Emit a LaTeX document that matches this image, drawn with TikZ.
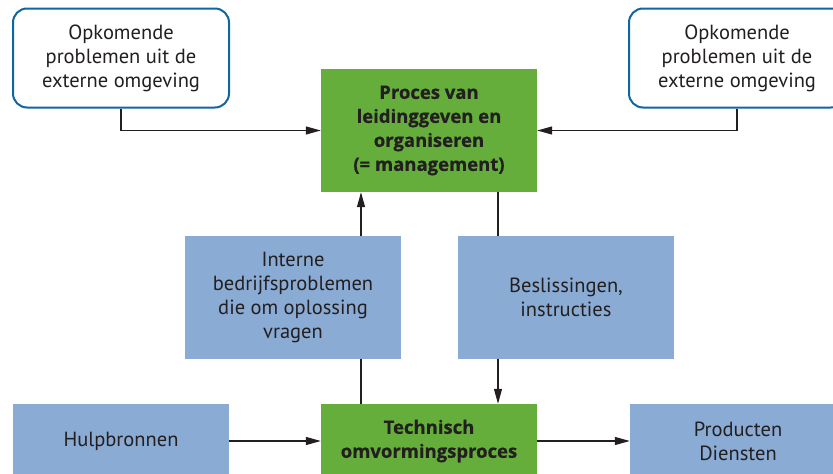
\documentclass[tikz,border=0pt]{standalone}
\usepackage{fontspec}
\setmainfont{PT Sans}
\newfontfamily\heavyfont[FakeBold=0.6]{Open Sans}
\usetikzlibrary{arrows.meta}
\definecolor{boxblue}{RGB}{138,171,211}
\definecolor{boxgreen}{RGB}{101,174,60}
\definecolor{edgeblue}{RGB}{16,101,163}
\definecolor{ink}{RGB}{35,31,32}
\tikzset{
  base/.style={align=center, text=ink, inner sep=0pt, minimum width=216pt, font=\fontsize{20.5}{24}\selectfont},
  extbox/.style={base, draw=edgeblue, line width=2pt, rounded corners=14pt, fill=white, minimum height=99pt},
  bluebox/.style={base, fill=boxblue, minimum height=123pt},
  greenbox/.style={base, fill=boxgreen, minimum height=123pt, font=\heavyfont\bfseries\fontsize{18.5}{24}\selectfont},
  lowbox/.style={minimum height=74pt},
  conn/.style={draw=ink, line width=1.2pt},
  arr/.style={conn, -{Triangle[length=15pt,width=8pt]}}
}
\begin{document}
\begin{tikzpicture}[x=1pt,y=-1pt]
\useasboundingbox (0,0) rectangle (833,474);
\node[extbox] (tl) at (121,58) {Opkomende\\problemen uit de\\externe omgeving};
\node[extbox] (tr) at (737,58) {Opkomende\\problemen uit de\\externe omgeving};
\node[greenbox] (gt) at (429,130.5) {Proces van\\leidinggeven en\\organiseren\\(= management)};
\node[bluebox] (ib) at (293,297.5) {Interne\\bedrijfsproblemen\\die om oplossing\\vragen};
\node[bluebox] (bs) at (566,297.5) {Beslissingen,\\instructies};
\node[bluebox,lowbox] (hb) at (121,441) {Hulpbronnen};
\node[greenbox,lowbox] (gb) at (429,441) {Technisch\\omvormingsproces};
\node[bluebox,lowbox] (pd) at (738,441) {Producten\\Diensten};
\coordinate (cl) at (361,0);
\coordinate (cr) at (498,0);
\draw[arr] (tl.south) |- (gt.west);
\draw[arr] (tr.south) |- (gt.east);
\draw[arr] (ib.north -| cl) -- (gt.south -| cl);
\draw[conn] (gb.north -| cl) -- (ib.south -| cl);
\draw[conn] (gt.south -| cr) -- (bs.north -| cr);
\draw[arr] (bs.south -| cr) -- (gb.north -| cr);
\draw[arr] (hb.east) -- (gb.west);
\draw[arr] (gb.east) -- (pd.west);
\end{tikzpicture}
\end{document}
